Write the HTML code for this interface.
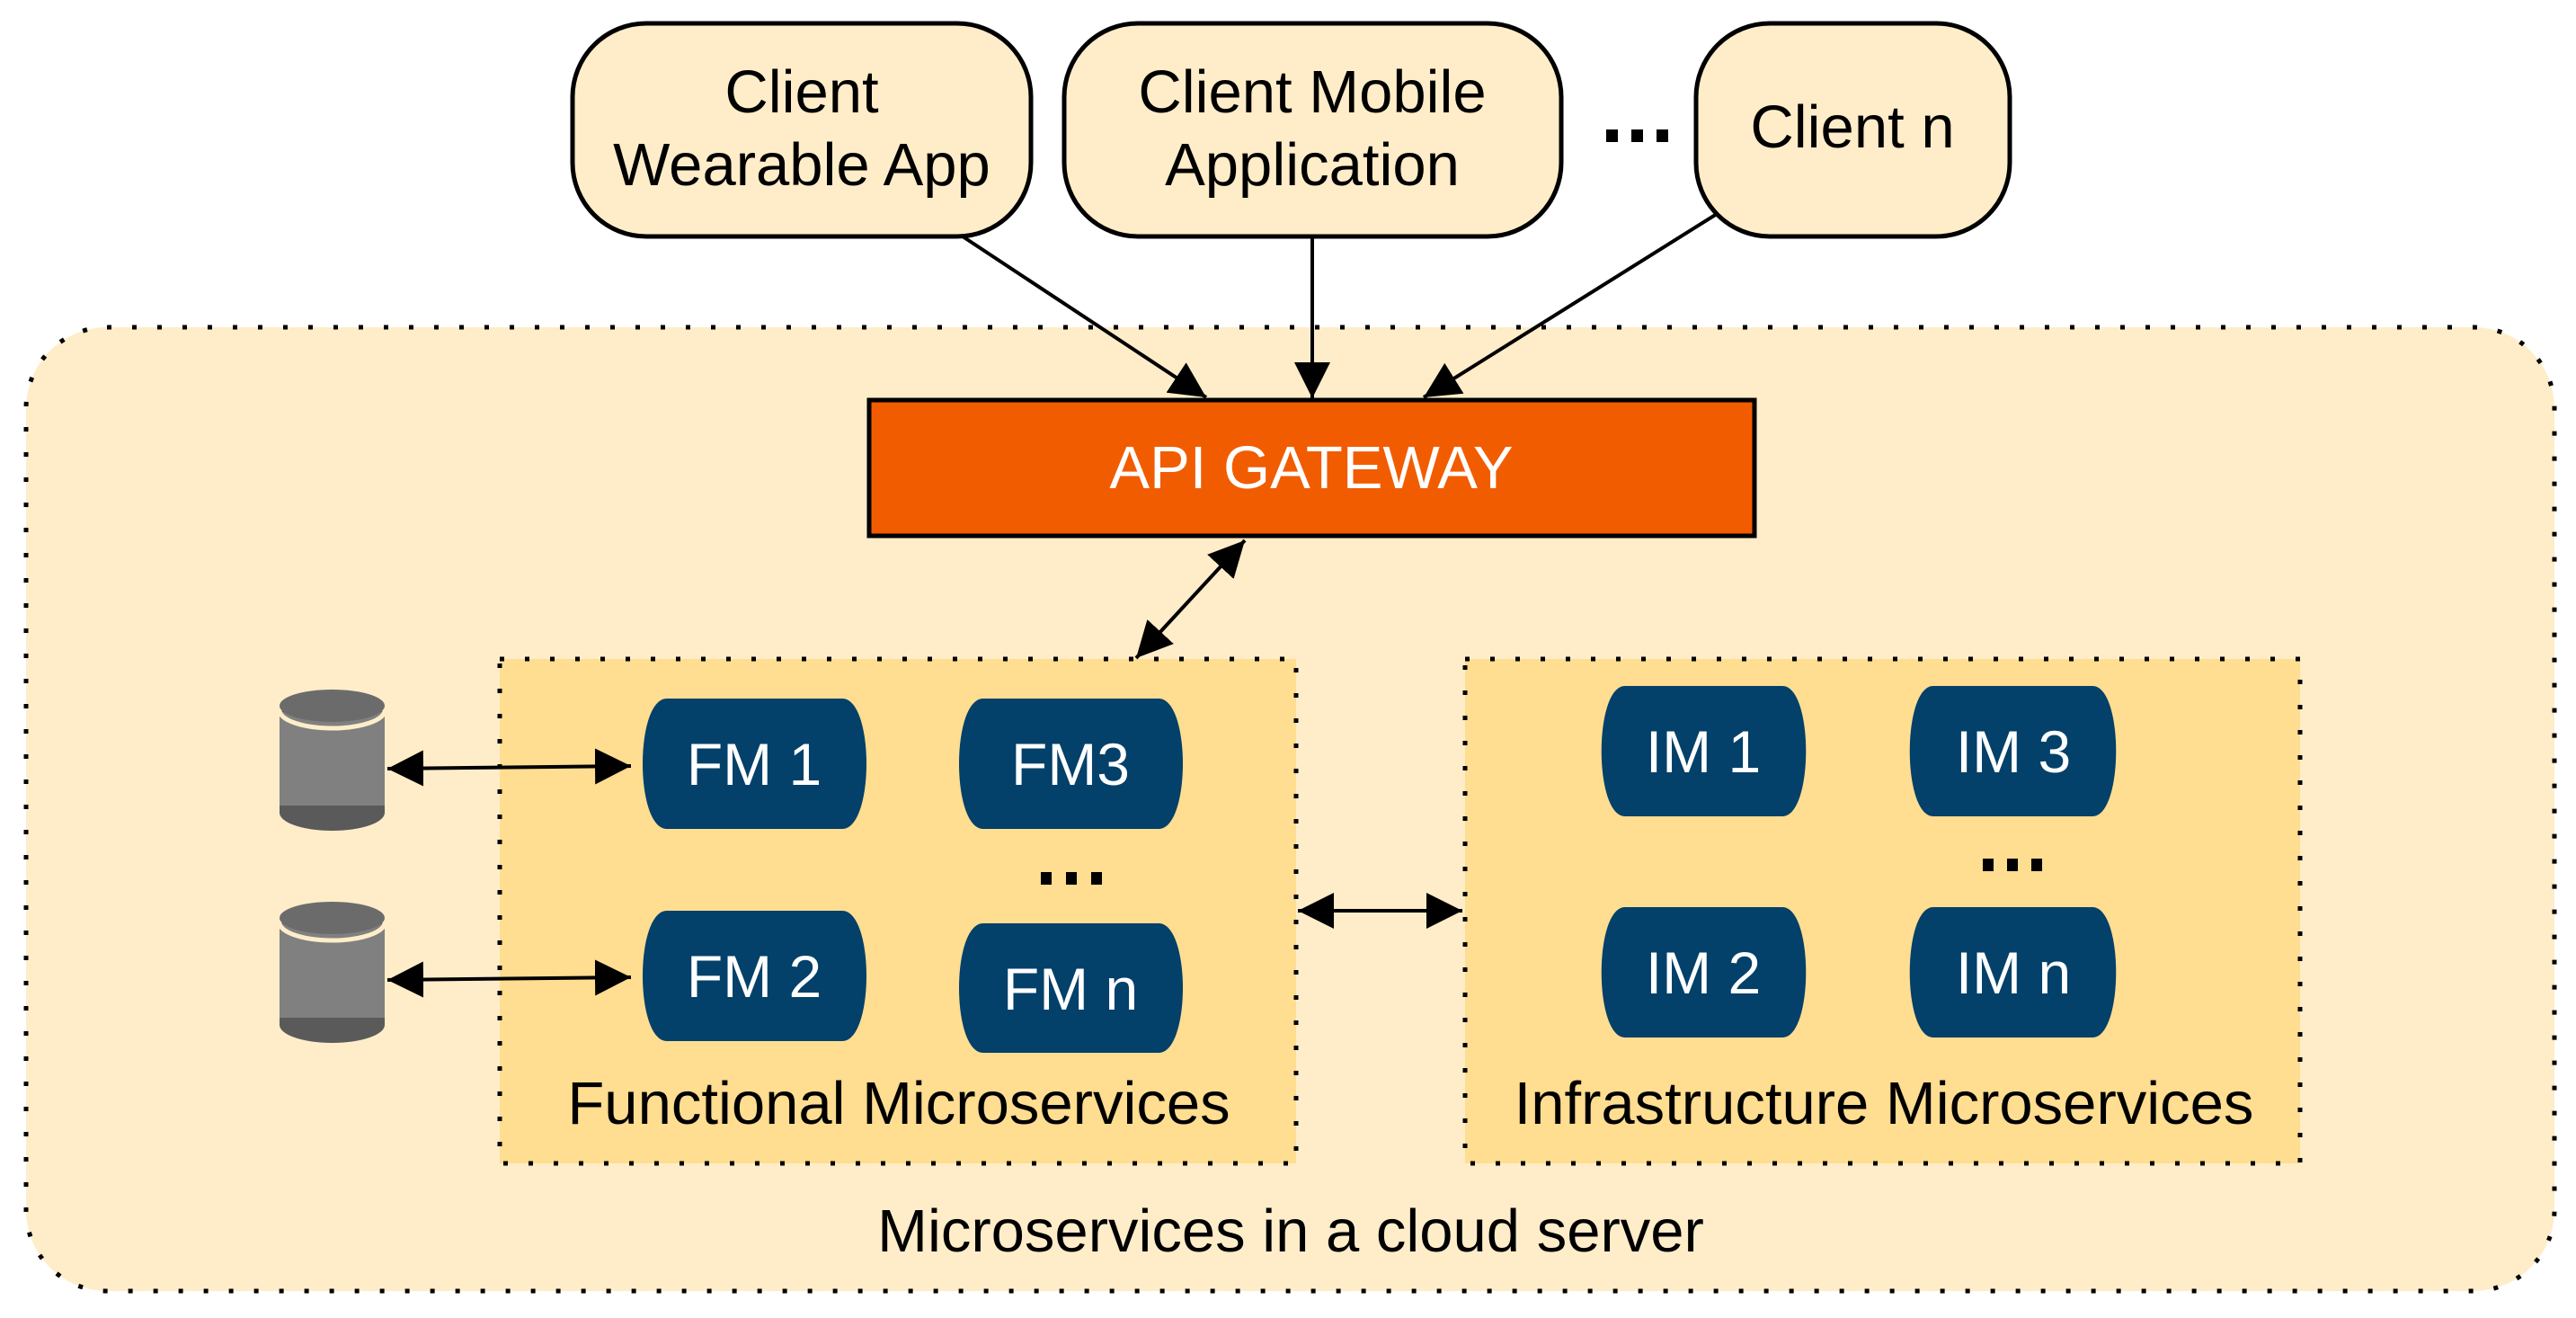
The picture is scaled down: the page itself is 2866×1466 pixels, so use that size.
<!DOCTYPE html>
<html><head><meta charset="utf-8"><style>
html,body{margin:0;padding:0;background:#fff;}
svg{display:block;}
text{font-family:"Liberation Sans",Arial,sans-serif;}
</style></head><body>
<svg width="2866" height="1466" viewBox="0 0 2866 1466" xmlns="http://www.w3.org/2000/svg">
<defs>
<marker id="a" viewBox="0 0 40 40" refX="40" refY="20" markerWidth="40" markerHeight="40" markerUnits="userSpaceOnUse" orient="auto-start-reverse">
<path d="M0,0 L40,20 L0,40 z" fill="#000"/>
</marker>
</defs>

<rect x="29" y="364" width="2813" height="1072" rx="90" ry="90" fill="#FFEDC9" stroke="#000" stroke-width="5" stroke-dasharray="5 23"/>

<rect x="556" y="733" width="886" height="561" fill="#FFDD91" stroke="#000" stroke-width="5" stroke-dasharray="5 23"/>
<rect x="1630" y="733" width="929" height="561" fill="#FFDD91" stroke="#000" stroke-width="5" stroke-dasharray="5 23"/>

<rect x="637" y="26" width="510" height="237" rx="82" fill="#FFEDC9" stroke="#000" stroke-width="5"/>
<rect x="1184" y="26" width="553" height="237" rx="82" fill="#FFEDC9" stroke="#000" stroke-width="5"/>
<rect x="1887" y="26" width="349" height="237" rx="82" fill="#FFEDC9" stroke="#000" stroke-width="5"/>
<text x="892" y="125" font-size="67" text-anchor="middle">Client</text>
<text x="892" y="206" font-size="67" text-anchor="middle">Wearable App</text>
<text x="1460" y="125" font-size="67" text-anchor="middle">Client Mobile</text>
<text x="1460" y="206" font-size="67" text-anchor="middle">Application</text>
<text x="2061" y="164" font-size="67" text-anchor="middle">Client n</text>
<g fill="#000"><rect x="1787" y="144" width="13" height="14"/><rect x="1815" y="144" width="13" height="14"/><rect x="1843" y="144" width="13" height="14"/></g>

<line x1="1071" y1="263" x2="1342" y2="442" stroke="#000" stroke-width="4" marker-end="url(#a)"/>
<line x1="1460" y1="263" x2="1460" y2="443" stroke="#000" stroke-width="4" marker-end="url(#a)"/>
<line x1="1910" y1="238" x2="1584" y2="442" stroke="#000" stroke-width="4" marker-end="url(#a)"/>

<rect x="967" y="445" width="985" height="151" fill="#F25C00" stroke="#000" stroke-width="5"/>
<text x="1459" y="543" font-size="67" fill="#fff" text-anchor="middle">API GATEWAY</text>

<line x1="1385" y1="601" x2="1264" y2="732" stroke="#000" stroke-width="4" marker-start="url(#a)" marker-end="url(#a)"/>

<g>
<path d="M311,790 V900 A58.5,20 0 0 0 428,900 V790 Z" fill="#5a5a5a"/>
<rect x="311" y="792" width="117" height="104" fill="#808080"/>
<path d="M311,790 A58.5,20 0 0 0 428,790" fill="none" stroke="#FFEDC9" stroke-width="5"/>
<ellipse cx="369.5" cy="785" rx="58.5" ry="18" fill="#6b6b6b"/>
<path d="M311,896 A58.5,20 0 0 0 428,896 V904 A58.5,20 0 0 1 311,904 Z" fill="#5a5a5a"/>
</g>
<g transform="translate(0,236)">
<path d="M311,790 V900 A58.5,20 0 0 0 428,900 V790 Z" fill="#5a5a5a"/>
<rect x="311" y="792" width="117" height="104" fill="#808080"/>
<path d="M311,790 A58.5,20 0 0 0 428,790" fill="none" stroke="#FFEDC9" stroke-width="5"/>
<ellipse cx="369.5" cy="785" rx="58.5" ry="18" fill="#6b6b6b"/>
<path d="M311,896 A58.5,20 0 0 0 428,896 V904 A58.5,20 0 0 1 311,904 Z" fill="#5a5a5a"/>
</g>

<line x1="431" y1="855" x2="702" y2="852" stroke="#000" stroke-width="4" marker-start="url(#a)" marker-end="url(#a)"/>
<line x1="431" y1="1090" x2="702" y2="1087" stroke="#000" stroke-width="4" marker-start="url(#a)" marker-end="url(#a)"/>

<g fill="#03406A">
<path d="M742,777 H937 C973,777 973,922 937,922 H742 C706,922 706,777 742,777 Z"/>
<path d="M1094,777 H1289 C1325,777 1325,922 1289,922 H1094 C1058,922 1058,777 1094,777 Z"/>
<path d="M742,1013 H937 C973,1013 973,1158 937,1158 H742 C706,1158 706,1013 742,1013 Z"/>
<path d="M1094,1027 H1289 C1325,1027 1325,1171 1289,1171 H1094 C1058,1171 1058,1027 1094,1027 Z"/>
<path d="M1808,763 H1983 C2018,763 2018,908 1983,908 H1808 C1773,908 1773,763 1808,763 Z"/>
<path d="M2151,763 H2328 C2363,763 2363,908 2328,908 H2151 C2116,908 2116,763 2151,763 Z"/>
<path d="M1808,1009 H1983 C2018,1009 2018,1154 1983,1154 H1808 C1773,1154 1773,1009 1808,1009 Z"/>
<path d="M2151,1009 H2328 C2363,1009 2363,1154 2328,1154 H2151 C2116,1154 2116,1009 2151,1009 Z"/>
</g>
<g fill="#fff" font-size="66" text-anchor="middle">
<text x="839" y="873">FM 1</text>
<text x="1191" y="873">FM3</text>
<text x="839" y="1109">FM 2</text>
<text x="1191" y="1123">FM n</text>
<text x="1895" y="859">IM 1</text>
<text x="2240" y="859">IM 3</text>
<text x="1895" y="1105">IM 2</text>
<text x="2240" y="1105">IM n</text>
</g>
<g fill="#000">
<rect x="1158" y="970" width="12" height="14"/><rect x="1186" y="970" width="12" height="14"/><rect x="1214" y="970" width="12" height="14"/>
<rect x="2206" y="955" width="12" height="14"/><rect x="2233" y="955" width="12" height="14"/><rect x="2260" y="955" width="12" height="14"/>
</g>

<line x1="1444" y1="1013" x2="1627" y2="1013" stroke="#000" stroke-width="4" marker-start="url(#a)" marker-end="url(#a)"/>

<text x="1000" y="1250" font-size="67" text-anchor="middle">Functional Microservices</text>
<text x="2096" y="1250" font-size="67" text-anchor="middle">Infrastructure Microservices</text>
<text x="1436" y="1392" font-size="67" text-anchor="middle">Microservices in a cloud server</text>
</svg>
</body></html>
